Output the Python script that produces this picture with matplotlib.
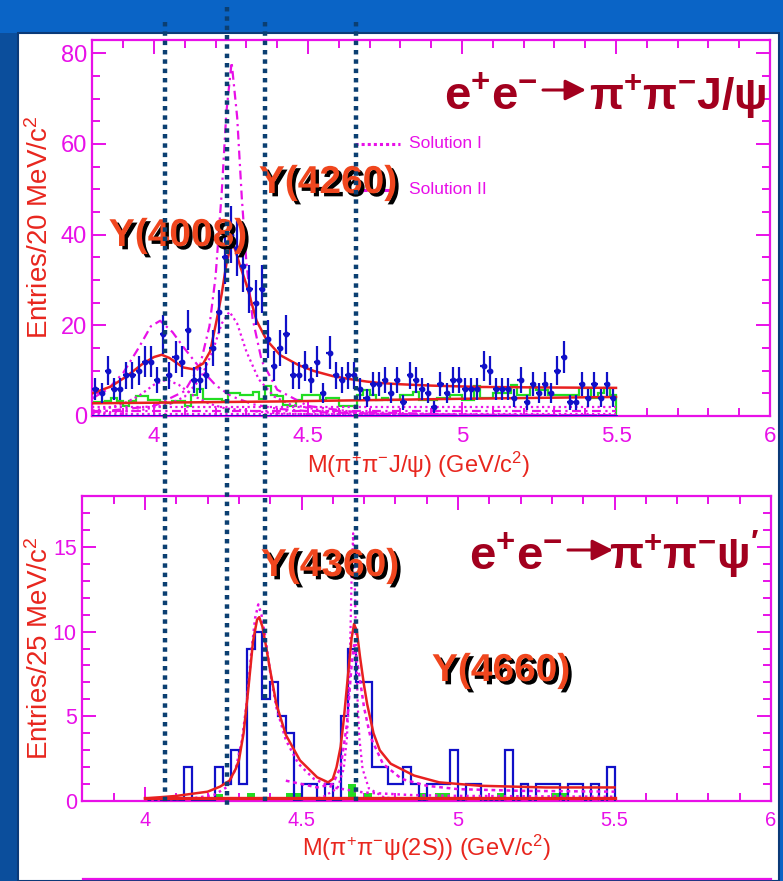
import numpy as np
import matplotlib
matplotlib.use('Agg')
import matplotlib.pyplot as plt
import matplotlib.patheffects as pe
from matplotlib.lines import Line2D
from matplotlib.patches import Rectangle, FancyArrowPatch
from matplotlib.ticker import MultipleLocator, FuncFormatter

plt.rcParams['font.family'] = ['Liberation Sans', 'DejaVu Sans']
plt.rcParams['mathtext.default'] = 'regular'

W, H = 783, 881
MAG = '#E810E8'
RED = '#E82020'
BLUE = '#1010C8'
GREEN = '#22DD22'
LABEL_RED = '#E8261E'
TITLE_RED = '#A2001E'

# ---------------- top panel: e+e- -> pi+pi- J/psi (20 MeV bins)
jpsi_centers = np.round(np.arange(3.81, 5.50, 0.02), 2)
jpsi_edges = np.round(np.arange(3.80, 5.5001, 0.02), 2)
jpsi_counts = [6, 5, 10, 6, 6, 9, 9, 10, 12, 12,
               8, 18, 9, 13, 12, 19, 8, 8, 9, 15,
               23, 35, 40, 37, 33, 28, 25, 28, 17, 11,
               15, 18, 9, 9, 11, 8, 12, 5, 14, 9,
               8, 9, 9, 6, 4, 7, 7, 8, 5, 8,
               3, 9, 8, 6, 5, 2, 7, 5, 8, 8,
               6, 6, 6, 11, 10, 6, 6, 6, 4, 8,
               3, 7, 5, 7, 5, 10, 13, 3, 3, 7,
               4, 7, 4, 7, 4]
jpsi_sideband = [3.0, 3.0, 3.4, 4.0, 3.2, 2.2, 3.2, 4.3, 4.3, 3.6,
                 3.6, 3.0, 2.8, 3.4, 3.4, 2.1, 4.6, 5.9, 3.8, 3.8,
                 3.8, 3.2, 5.0, 5.0, 4.6, 4.6, 5.3, 3.8, 6.6, 4.6,
                 4.3, 2.5, 2.2, 3.5, 4.6, 4.6, 4.6, 3.5, 3.9, 3.9,
                 2.2, 2.2, 2.2, 4.6, 5.7, 4.6, 3.5, 4.0, 3.5, 3.5,
                 4.6, 4.6, 5.4, 3.5, 3.5, 3.5, 3.9, 3.9, 4.6, 4.6,
                 3.5, 3.5, 6.6, 3.9, 3.9, 5.0, 5.0, 5.0, 6.8, 4.6,
                 4.6, 6.5, 5.7, 5.7, 4.6, 4.6, 4.6, 4.6, 4.6, 6.2,
                 6.2, 3.9, 5.0, 6.2, 4.6]

# total fit and background
jpsi_fit_x = [3.80, 3.86, 3.91, 3.965, 4.00, 4.025, 4.05, 4.095, 4.128, 4.16,
              4.182, 4.203, 4.22, 4.235, 4.25, 4.262, 4.28, 4.30, 4.333, 4.366,
              4.41, 4.47, 4.52, 4.58, 4.63, 4.69, 4.73, 4.80, 4.90, 5.06, 5.25, 5.50]
jpsi_fit_y = [5.0, 6.5, 8.7, 11.6, 13.0, 13.5, 12.8, 10.7, 10.3, 11.6,
              14.2, 21.0, 27.0, 33.5, 37.8, 37.0, 33.0, 29.0, 21.0, 16.7,
              13.4, 11.2, 9.9, 8.8, 8.2, 7.6, 7.3, 7.0, 6.7, 6.4, 6.3, 6.2]
jpsi_bg_x = [3.80, 4.40, 5.00, 5.50]
jpsi_bg_y = [2.8, 3.2, 3.8, 4.2]

# Solution I (dotted) components
sol1_a_x = [3.80, 3.85, 3.90, 3.95, 4.00, 4.04, 4.08, 4.13, 4.18, 4.23, 4.30, 4.40, 4.55, 4.80, 5.50]
sol1_a_y = [1.2, 1.7, 2.7, 4.4, 6.9, 8.0, 6.9, 4.4, 2.7, 1.7, 1.2, 0.6, 0.3, 0.15, 0.1]
sol1_b_x = [3.80, 3.95, 4.05, 4.10, 4.15, 4.19, 4.22, 4.245, 4.27, 4.30, 4.34, 4.39, 4.44, 4.55, 4.70, 5.00, 5.50]
sol1_b_y = [0.6, 1.2, 2.6, 4.3, 8.1, 14.2, 20.4, 23.0, 20.4, 14.2, 8.1, 4.3, 2.6, 1.15, 0.5, 0.2, 0.1]
# Solution II (dash-dotted) components
sol2_a_x = [3.80, 3.85, 3.90, 3.95, 3.99, 4.02, 4.06, 4.10, 4.15, 4.20, 4.25, 4.32, 4.40, 4.55, 4.80, 5.50]
sol2_a_y = [3.9, 5.9, 9.5, 15.0, 19.8, 21.0, 18.5, 14.8, 10.5, 6.8, 4.4, 2.6, 1.6, 0.8, 0.4, 0.15]
sol2_b_x = [3.80, 4.00, 4.10, 4.15, 4.18, 4.20, 4.22, 4.235, 4.252, 4.27, 4.285, 4.30, 4.32, 4.35, 4.40, 4.50, 4.65, 5.00, 5.50]
sol2_b_y = [0.8, 2.2, 5.5, 11.3, 19.8, 30.8, 49.4, 67.0, 78.0, 65.9, 48.2, 33.8, 21.5, 12.1, 5.8, 2.2, 0.9, 0.3, 0.15]
# interference terms near zero
interf_x = [3.80, 5.50]
interf_dot_hi = [1.9, 1.9]
interf_dash = [1.1, 1.1]
interf_dot_lo = [0.4, 0.4]

# ---------------- bottom panel: e+e- -> pi+pi- psi(2S) (25 MeV bins)
psi2s_edges = np.round(np.arange(4.0, 5.5001, 0.025), 3)
psi2s_counts = [0, 0, 0, 0, 0, 2, 0, 0, 0, 2,
                1, 3, 1, 9, 10, 6, 7, 5, 4, 0,
                1, 1, 0, 1, 0, 5, 9, 7, 7, 2,
                2, 1, 1, 2, 1, 0, 1, 1, 1, 3,
                0, 1, 1, 0, 0, 0, 3, 0, 1, 0,
                1, 1, 1, 0, 1, 1, 0, 1, 0, 2]
psi2s_sideband = [0, 0, 0, 0, 0, 0, 0, 0, 0, 0.4,
                  0, 0, 0, 0.5, 0, 0, 0, 0, 0.5, 0.5,
                  0, 0, 0, 0, 0, 0, 1.0, 0, 0.5, 0,
                  0, 0, 0, 0, 0, 0.5, 0, 0.5, 0.5, 0,
                  0, 0, 0, 0, 0, 0.5, 0, 0, 0, 0,
                  0, 0, 0.5, 0.5, 0, 0, 0, 0, 0, 0]

psi2s_fit_x = [4.00, 4.10, 4.20, 4.24, 4.27, 4.29, 4.30, 4.315, 4.33, 4.345,
               4.358, 4.365, 4.375, 4.385, 4.40, 4.42, 4.45, 4.495, 4.55, 4.585,
               4.60, 4.612, 4.625, 4.635, 4.65, 4.66, 4.668, 4.677, 4.687, 4.70,
               4.71, 4.73, 4.75, 4.785, 4.86, 4.94, 5.07, 5.28, 5.50]
psi2s_fit_y = [0.15, 0.3, 0.55, 0.85, 1.2, 1.9, 2.4, 4.0, 6.6, 9.4,
               10.7, 10.85, 10.3, 9.3, 7.7, 5.7, 3.9, 2.4, 1.4, 1.1,
               1.3, 2.0, 3.2, 4.8, 7.7, 9.6, 10.45, 10.0, 8.5, 6.8,
               5.7, 4.0, 3.0, 2.2, 1.5, 1.1, 0.9, 0.8, 0.8]
psi2s_bg_x = [4.00, 5.50]
psi2s_bg_y = [0.15, 0.15]

y4360_x = [4.00, 4.15, 4.22, 4.26, 4.29, 4.31, 4.325, 4.34, 4.352, 4.362,
           4.372, 4.385, 4.40, 4.42, 4.45, 4.49, 4.54, 4.60, 4.70, 4.85, 5.00, 5.50]
y4360_y = [0.05, 0.15, 0.35, 0.8, 1.9, 3.6, 5.8, 8.8, 10.8, 11.6,
           11.0, 9.6, 7.6, 5.5, 3.6, 2.2, 1.3, 0.8, 0.5, 0.35, 0.3, 0.25]
y4660_narrow_x = [4.50, 4.565, 4.615, 4.635, 4.645, 4.65, 4.655, 4.66, 4.665, 4.67,
                  4.675, 4.68, 4.685, 4.695, 4.715, 4.765, 4.90, 5.50]
y4660_narrow_y = [0.1, 0.2, 0.75, 1.9, 3.7, 5.5, 8.7, 13.1, 15.8, 13.1,
                  8.7, 5.5, 3.7, 1.9, 0.75, 0.2, 0.1, 0.05]
y4660_wide_x = [4.45, 4.55, 4.60, 4.625, 4.645, 4.66, 4.668, 4.68, 4.70, 4.72,
                4.76, 4.82, 4.90, 5.00, 5.20, 5.50]
y4660_wide_y = [1.2, 0.8, 1.0, 2.0, 4.5, 8.0, 9.2, 8.0, 5.5, 3.8,
                2.2, 1.3, 0.9, 0.7, 0.6, 0.55]

# ---------------- figure
fig = plt.figure(figsize=(W / 100, H / 100), dpi=100, facecolor='#0A64C6')
fig.add_artist(Rectangle((0, 0), 18 / W, 1 - 33 / H, transform=fig.transFigure,
                         facecolor='#0B4E9C', edgecolor='none', zorder=-3))
fig.add_artist(Rectangle((18 / W, 0), (779 - 18) / W, 1 - 33 / H, transform=fig.transFigure,
                         facecolor='white', edgecolor='#0B3A78', lw=1.5, zorder=-2))


def fx(x):
    return x / W


def fy(y):
    return 1 - y / H


def style_axes(ax, xsize, ysize, ymajor, yminor, ymax):
    ax.set_facecolor('none')
    for s in ax.spines.values():
        s.set_color(MAG)
        s.set_linewidth(1.6)
    ax.set_xlim(3.8, 6.0)
    ax.set_ylim(0, ymax)
    ax.xaxis.set_major_locator(MultipleLocator(0.5))
    ax.xaxis.set_minor_locator(MultipleLocator(0.1))
    ax.xaxis.set_major_formatter(FuncFormatter(lambda v, p: '%g' % v))
    ax.yaxis.set_major_locator(MultipleLocator(ymajor))
    ax.yaxis.set_minor_locator(MultipleLocator(yminor))
    ax.tick_params(which='both', direction='in', top=True, right=True, color=MAG, width=1.4)
    ax.tick_params(which='major', length=10)
    ax.tick_params(which='minor', length=6)
    ax.tick_params(axis='x', labelsize=xsize, labelcolor=MAG, pad=7)
    ax.tick_params(axis='y', labelsize=ysize, labelcolor=MAG, pad=4)


ax1 = fig.add_axes([fx(92.4), fy(416), (770 - 92.4) / W, (416 - 40) / H])
style_axes(ax1, 16, 17, 20, 5, 82.9)

dotted = (0, (1, 1.5))
dashdot = (0, (4, 2, 1, 2))
ax1.stairs(jpsi_sideband, jpsi_edges, color=GREEN, lw=1.6, zorder=2)
ax1.plot(interf_x, interf_dot_hi, color=MAG, lw=1.6, ls=dotted, zorder=2)
ax1.plot(interf_x, interf_dash, color=MAG, lw=1.6, ls=dashdot, zorder=2)
ax1.plot(interf_x, interf_dot_lo, color=MAG, lw=1.6, ls=dotted, zorder=2)
ax1.plot(sol1_a_x, sol1_a_y, color=MAG, lw=1.6, ls=dotted, zorder=3)
ax1.plot(sol1_b_x, sol1_b_y, color=MAG, lw=1.6, ls=dotted, zorder=3)
ax1.plot(sol2_a_x, sol2_a_y, color=MAG, lw=1.6, ls=dashdot, zorder=3)
ax1.plot(sol2_b_x, sol2_b_y, color=MAG, lw=1.6, ls=dashdot, zorder=3)
ax1.plot(jpsi_bg_x, jpsi_bg_y, color=RED, lw=1.8, zorder=4)
ax1.plot(jpsi_fit_x, jpsi_fit_y, color=RED, lw=1.8, zorder=4)
ax1.plot([3.8, 5.5], [0, 0], color=BLUE, lw=2, zorder=4)
ax1.errorbar(jpsi_centers, jpsi_counts, yerr=np.sqrt(jpsi_counts), xerr=0.01,
             fmt='o', ms=3.2, color=BLUE, elinewidth=1.6, capsize=0, zorder=5)

ax2 = fig.add_axes([fx(82.4), fy(801), (771 - 82.4) / W, (801 - 496) / H])
style_axes(ax2, 14.5, 15.5, 5, 1, 18.0)

ax2.stairs(psi2s_sideband, psi2s_edges, fill=True, color=GREEN, lw=0, zorder=2)
ax2.stairs(psi2s_counts, psi2s_edges, color=BLUE, lw=1.6, zorder=3)
ax2.plot(y4360_x, y4360_y, color=MAG, lw=1.8, ls=dotted, zorder=4)
ax2.plot(y4660_wide_x, y4660_wide_y, color=MAG, lw=1.8, ls=(0, (1.5, 1.5)), zorder=4)
ax2.plot(y4660_narrow_x, y4660_narrow_y, color=MAG, lw=1.6, ls=dotted, zorder=4)
ax2.plot(psi2s_bg_x, psi2s_bg_y, color=RED, lw=2.4, zorder=4)
ax2.plot(psi2s_fit_x, psi2s_fit_y, color=RED, lw=1.8, zorder=5)

# axis titles
fig.text(fx(40), fy(227), 'Entries/20 MeV/c$^{2}$', rotation=90, ha='center', va='center',
         fontsize=20, color=LABEL_RED)
fig.text(fx(40), fy(648), 'Entries/25 MeV/c$^{2}$', rotation=90, ha='center', va='center',
         fontsize=20, color=LABEL_RED)
fig.text(fx(418), fy(465), r'M($\pi^{+}\pi^{-}$J/$\psi$) (GeV/c$^{2}$)', ha='center', va='center',
         fontsize=17, color=LABEL_RED)
fig.text(fx(427), fy(848), r'M($\pi^{+}\pi^{-}\psi$(2S)) (GeV/c$^{2}$)', ha='center', va='center',
         fontsize=17, color=LABEL_RED)

# legend
fig.add_artist(Line2D([fx(355), fx(400)], [fy(144), fy(144)], transform=fig.transFigure,
                      color=MAG, lw=2.2, ls=(0, (1, 1))))
fig.add_artist(Line2D([fx(355), fx(400)], [fy(190), fy(190)], transform=fig.transFigure,
                      color=MAG, lw=2.2, ls=(0, (4, 2, 1, 2))))
fig.text(fx(409), fy(144), 'Solution I', ha='left', va='center', fontsize=12.5, color=MAG)
fig.text(fx(409), fy(190), 'Solution II', ha='left', va='center', fontsize=12.5, color=MAG)


# reaction titles: left part, drawn arrow, right part
def reaction(left, right, x_arrow0, x_arrow1, baseline, y_arrow, x_right):
    fig.text(fx(x_arrow0 - 5), fy(baseline), left, ha='right', va='baseline',
             fontsize=34, fontweight='bold', color=TITLE_RED)
    fig.add_artist(FancyArrowPatch((fx(x_arrow0), fy(y_arrow)), (fx(x_arrow1), fy(y_arrow)),
                                   transform=fig.transFigure, arrowstyle='-|>,head_length=0.9,head_width=0.45',
                                   mutation_scale=14, lw=2.2, color=TITLE_RED,
                                   shrinkA=0, shrinkB=0))
    fig.text(fx(x_right), fy(baseline), right, ha='right', va='baseline',
             fontsize=32, fontweight='bold', color=TITLE_RED)


reaction(r'e$^{+}$e$^{-}$', r'$\pi^{+}\pi^{-}$J/$\psi$', 543, 586, 110, 90, 767)
reaction(r'e$^{+}$e$^{-}$', r'$\pi^{+}\pi^{-}\psi^{\prime}$', 568, 613, 570, 550, 760)

# resonance labels
shadow = [pe.withSimplePatchShadow(offset=(2.4, -2.4), shadow_rgbFace='black', alpha=1.0)]
for lab, x, y in [('Y(4008)', 178, 236), ('Y(4260)', 328, 183),
                  ('Y(4360)', 330, 566), ('Y(4660)', 501, 671)]:
    fig.text(fx(x), fy(y), lab, ha='center', va='center', fontsize=28, fontweight='bold',
             color='#F0461E', path_effects=shadow, zorder=6)

# vertical dotted markers across both panels
for x, ytop in [(164.5, 22), (227, 7), (265, 22), (355.5, 22)]:
    fig.add_artist(Line2D([fx(x), fx(x)], [fy(ytop), fy(806)], transform=fig.transFigure,
                          color='#0B3F72', lw=3.2, ls=(0, (1.0, 1.1)),
                          dash_capstyle='butt', zorder=7))

# frame of the next panel peeking at the bottom
fig.add_artist(Line2D([fx(83), fx(771)], [fy(879), fy(879)], transform=fig.transFigure,
                      color=MAG, lw=1.6))

fig.savefig('out.png', dpi=100, facecolor=fig.get_facecolor())
